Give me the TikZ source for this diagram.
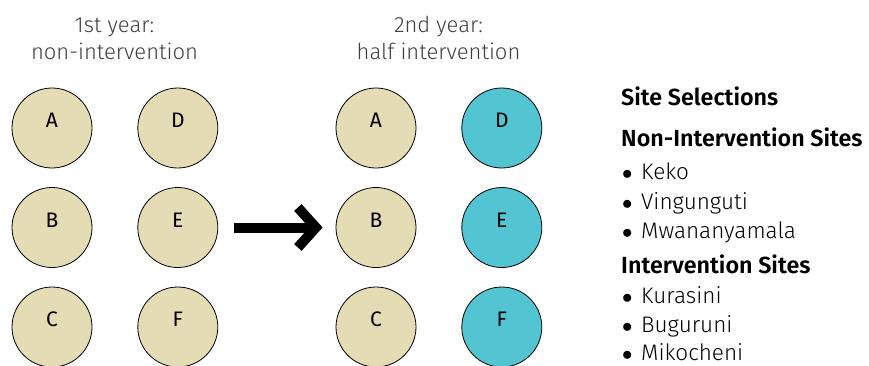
\documentclass[tikz,border=0pt]{standalone}
\usepackage{fontspec}
\setmainfont{Fira Sans}[UprightFont=* Light, BoldFont=* SemiBold]
\newfontfamily\sitefont{Fira Sans}
\usepackage{xcolor}
\definecolor{colorSand}{HTML}{E3DCB5}
\definecolor{colorTeal}{HTML}{53C4D1}
\definecolor{colorTitle}{HTML}{404040}
\usetikzlibrary{arrows.meta, positioning}
\tikzset{
  site/.style={circle, draw=black, thick, fill=colorSand, minimum size=80pt, inner sep=0pt},
  treated/.style={site, fill=colorTeal},
  sitename/.style={font=\sitefont\fontsize{21}{21}\selectfont, yshift=7.5pt},
  yeartitle/.style={anchor=base, inner sep=0pt, text=colorTitle, font=\fontsize{22}{22}\selectfont},
  heading/.style={anchor=base west, inner sep=0pt, font=\fontsize{23.3}{23.3}\selectfont\bfseries},
  siteitem/.style={anchor=base west, inner sep=0pt, font=\fontsize{22.5}{22.5}\selectfont}
}
\newcommand{\itemdot}{\makebox[19pt][l]{$\bullet$}}

\begin{document}
\begin{tikzpicture}[x=1pt, y=-1pt, node distance=18.7pt and 45pt]
\useasboundingbox (0,0) rectangle (869,365);
% first year
\node[site, label={[sitename]center:A}] (a1) at (52,128) {};
\node[site, label={[sitename]center:D}, right=of a1] (d1) {};
\node[site, label={[sitename]center:B}, below=of a1] (b1) {};
\node[site, label={[sitename]center:E}, right=of b1] (e1) {};
\node[site, label={[sitename]center:C}, below=of b1] (c1) {};
\node[site, label={[sitename]center:F}, right=of c1] (f1) {};
\node[yeartitle] (t1) at (114.5,32) {1st year:};
\node[yeartitle] (t1b) at (114.5,59) {non-intervention};
% second year
\node[site, label={[sitename]center:A}] (a2) at (376,128) {};
\node[treated, label={[sitename]center:D}, right=of a2] (d2) {};
\node[site, label={[sitename]center:B}, below=of a2] (b2) {};
\node[treated, label={[sitename]center:E}, right=of b2] (e2) {};
\node[site, label={[sitename]center:C}, below=of b2] (c2) {};
\node[treated, label={[sitename]center:F}, right=of c2] (f2) {};
\node[yeartitle] (t2) at (438.5,32) {2nd year:};
\node[yeartitle] (t2b) at (438.5,59) {half intervention};
% change
\draw[line width=10pt, shorten <=16pt, shorten >=13pt, -{Straight Barb[length=18pt, width=40pt]}] (e1) -- (b2);
% legend
\node[heading] (sel) at (621,105) {Site Selections};
\node[heading] (nonint) at (621,146) {Non-Intervention Sites};
\node[siteitem] (keko) at (622,179) {\itemdot Keko};
\node[siteitem] (ving) at (622,209) {\itemdot Vingunguti};
\node[siteitem] (mwan) at (622,238) {\itemdot Mwananyamala};
\node[heading] (int) at (621,273) {Intervention Sites};
\node[siteitem] (kura) at (622,303) {\itemdot Kurasini};
\node[siteitem] (bugu) at (622,332) {\itemdot Buguruni};
\node[siteitem] (miko) at (622,360.5) {\itemdot Mikocheni};
\end{tikzpicture}
\end{document}
